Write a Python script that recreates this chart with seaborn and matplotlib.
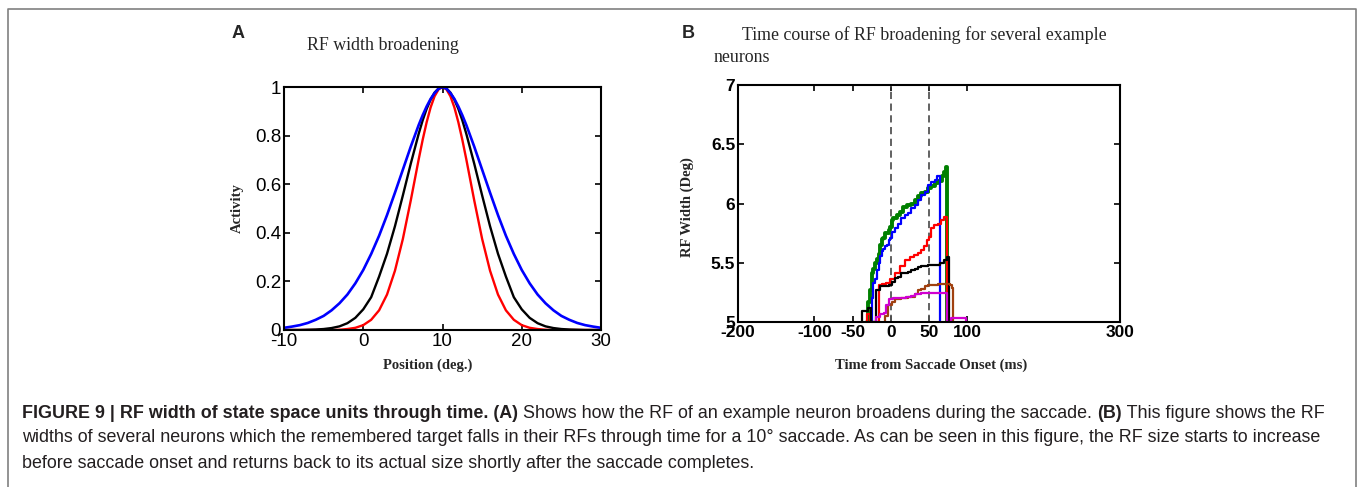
import matplotlib
matplotlib.use("Agg")
import matplotlib.pyplot as plt
import seaborn as sns
from matplotlib.lines import Line2D

# ---- panel A : RF profiles (activity vs position) ----
position = [-10, -9, -8, -7, -6, -5, -4, -3, -2, -1, 0, 1, 2, 3, 4, 5, 6, 7,
            7.5, 8, 8.5, 9, 9.5, 10, 10.5, 11, 11.5, 12, 12.5,
            13, 14, 15, 16, 17, 18, 19, 20, 21, 22, 23, 24, 25, 26, 27, 28, 29, 30]
act_red = [0, 0, 0, 0, 0, 0, 0, 0.001, 0.004, 0.009, 0.020, 0.042, 0.081, 0.146, 0.244, 0.375, 0.534, 0.703,
           0.783, 0.855, 0.916, 0.962, 0.990, 1.0, 0.990, 0.962, 0.916, 0.855, 0.783,
           0.703, 0.534, 0.375, 0.244, 0.146, 0.081, 0.042, 0.020, 0.009, 0.004, 0.001, 0, 0, 0, 0, 0, 0, 0]
act_black = [0, 0, 0, 0.001, 0.002, 0.004, 0.008, 0.015, 0.028, 0.050, 0.085, 0.135, 0.220, 0.314, 0.427, 0.554, 0.685, 0.808,
             0.863, 0.910, 0.948, 0.977, 0.994, 1.0, 0.994, 0.977, 0.948, 0.910, 0.863,
             0.808, 0.685, 0.554, 0.427, 0.314, 0.220, 0.135, 0.085, 0.050, 0.028, 0.015, 0.008, 0.004, 0.002, 0.001, 0, 0, 0]
act_blue = [0.009, 0.014, 0.020, 0.029, 0.042, 0.058, 0.081, 0.110, 0.146, 0.192, 0.247, 0.313, 0.388, 0.473, 0.565, 0.660, 0.755, 0.844,
            0.884, 0.920, 0.951, 0.975, 0.993, 1.0, 0.993, 0.975, 0.951, 0.920, 0.884,
            0.844, 0.755, 0.660, 0.565, 0.473, 0.388, 0.313, 0.247, 0.192, 0.146, 0.110, 0.081, 0.058, 0.042, 0.029, 0.020, 0.014, 0.009]

# ---- panel B : RF width over time for several neurons ----
green_t = [-31, -30, -27, -25, -23, -21, -18, -16, -14, -12, -10, -8, -3, -1, 1, 3, 8, 12, 16, 21,
           27, 32, 36, 40, 45, 49, 53, 58, 62, 67, 70, 72, 74]
green_w = [5.0, 5.17, 5.27, 5.41, 5.45, 5.50, 5.53, 5.57, 5.65, 5.70, 5.71, 5.75, 5.78, 5.80, 5.86, 5.875, 5.90, 5.93, 5.97, 5.99,
           6.00, 6.03, 6.06, 6.09, 6.10, 6.13, 6.15, 6.17, 6.19, 6.23, 6.27, 6.31, 5.0]
blue_t = [-26, -25, -23, -21, -18, -16, -14, -12, -10, -7, -5, -3, -1, 1, 5, 10, 14, 19, 23, 27,
          32, 36, 40, 45, 49, 53, 58, 61, 64]
blue_w = [5.0, 5.20, 5.33, 5.36, 5.44, 5.50, 5.56, 5.60, 5.62, 5.64, 5.65, 5.69, 5.71, 5.76, 5.79, 5.83, 5.875, 5.90, 5.92, 5.96,
          5.99, 6.03, 6.07, 6.10, 6.16, 6.18, 6.20, 6.23, 5.0]
red_t = [-33, -31, -27, -15, -12, -6, -1, 5, 12, 18, 25, 31, 36, 40, 44, 47, 50, 53, 57, 62, 66, 70, 73]
red_w = [5.0, 5.07, 5.0, 5.31, 5.32, 5.33, 5.36, 5.41, 5.47, 5.52, 5.55, 5.565, 5.58, 5.61, 5.64, 5.69, 5.72, 5.79, 5.82, 5.83,
         5.86, 5.89, 5.0]
black_t = [-39, -38, -30, -26, -20, -14, -3, 1, 5, 10, 14, 18, 23, 27, 32, 36, 40, 49, 58, 64, 69, 73, 76]
black_w = [5.0, 5.095, 5.115, 5.0, 5.27, 5.30, 5.31, 5.34, 5.37, 5.38, 5.41, 5.415, 5.425, 5.44, 5.45, 5.46, 5.47, 5.48, 5.48, 5.495,
           5.52, 5.55, 5.0]
brown_t = [-8, -7, -4, 1, 5, 14, 23, 32, 36, 40, 45, 49, 62, 77, 80, 82]
brown_w = [5.0, 5.05, 5.14, 5.17, 5.19, 5.20, 5.21, 5.24, 5.27, 5.28, 5.30, 5.31, 5.318, 5.31, 5.29, 5.0]
magenta_t = [-20, -19, -14, -9, -6, -3, 3, 13, 20, 26, 32, 36, 40, 74, 79, 98]
magenta_w = [5.0, 5.04, 5.07, 5.08, 5.14, 5.19, 5.20, 5.20, 5.21, 5.22, 5.235, 5.24, 5.247, 5.0, 5.03, 5.0]

xticks_b = [-200, -100, -50, 0, 50, 100, 300]
yticks_b = [5, 5.5, 6, 6.5, 7]
xticks_a = [-10, 0, 10, 20, 30]
yticks_a = [0, 0.2, 0.4, 0.6, 0.8, 1]

caption_l1 = [("FIGURE 9 | RF width of state space units through time. (A)", True),
              (" Shows how the RF of an example neuron broadens during the saccade. ", False),
              ("(B)", True),
              (" This figure shows the RF", False)]
caption_l2 = ("widths of several neurons which the remembered target falls in their RFs through time for a 10\u00b0 "
              "saccade. As can be seen in this figure, the RF size starts to increase")
caption_l3 = "before saccade onset and returns back to its actual size shortly after the saccade completes."

W, H = 1357, 487
sns.set_style("ticks")
plt.rcParams["axes.unicode_minus"] = False
plt.rcParams["font.family"] = ["Liberation Sans", "DejaVu Sans"]

fig = plt.figure(figsize=(W / 100, H / 100), dpi=100)
fig.patch.set_facecolor("white")


def px_axes(l, t, r, b):
    return fig.add_axes([l / W, 1 - b / H, (r - l) / W, (b - t) / H])


def style_axes(ax, bold, size):
    for s in ax.spines.values():
        s.set_linewidth(1.5)
        s.set_color("black")
    ax.tick_params(direction="in", length=4, width=1.2, top=True, right=True,
                   labelsize=size, pad=2, colors="black")
    for lab in ax.get_xticklabels() + ax.get_yticklabels():
        lab.set_fontweight("bold" if bold else "normal")


def fmt(v):
    return ("%g" % v)


# panel A
axA = px_axes(284, 87, 601, 330)
sns.lineplot(x=position, y=act_red, ax=axA, color="#ff0000", lw=1.7, estimator=None)
sns.lineplot(x=position, y=act_black, ax=axA, color="black", lw=1.7, estimator=None)
sns.lineplot(x=position, y=act_blue, ax=axA, color="#0000ff", lw=1.9, estimator=None)
axA.set_xlim(-10, 30)
axA.set_ylim(0, 1)
axA.set_xticks(xticks_a)
axA.set_xticklabels([fmt(v) for v in xticks_a])
axA.set_yticks(yticks_a)
axA.set_yticklabels([fmt(v) for v in yticks_a])
style_axes(axA, False, 13.5)

# panel B
axB = px_axes(738, 85, 1120, 322)
axB.axvline(0, color="#555555", lw=1.3, ls=(0, (4, 2.5)))
axB.axvline(50, color="#555555", lw=1.3, ls=(0, (4, 2.5)))
series = [(green_t, green_w, "#008000", 2.8), (blue_t, blue_w, "#0000ff", 1.6),
          (red_t, red_w, "#ff0000", 1.6), (black_t, black_w, "black", 1.6),
          (brown_t, brown_w, "#a0400f", 1.6), (magenta_t, magenta_w, "#d000d0", 1.6)]
for t, w, c, lw in series:
    sns.lineplot(x=t, y=w, ax=axB, color=c, lw=lw, estimator=None, drawstyle="steps-post")
axB.set_xlim(-200, 300)
axB.set_ylim(5, 7)
axB.set_xticks(xticks_b)
axB.set_xticklabels([fmt(v) for v in xticks_b])
axB.set_yticks(yticks_b)
axB.set_yticklabels([fmt(v) for v in yticks_b])
style_axes(axB, True, 12.5)


def ftext(x, y, s, **kw):
    return fig.text(x / W, 1 - y / H, s, **kw)


serif = ["Liberation Serif", "DejaVu Serif"]
# panel letters and titles
ftext(238, 34, "A", fontsize=13, fontweight="bold", ha="center", va="center")
ftext(688, 34, "B", fontsize=13, fontweight="bold", ha="center", va="center")
ftext(383, 46, "RF width broadening", family=serif, fontsize=12.9, ha="center", va="center")
ftext(742, 35, "Time course of RF broadening for several example", family=serif, fontsize=12.9, ha="left", va="center")
ftext(714, 58, "neurons", family=serif, fontsize=12.9, ha="left", va="center")

# axis labels
ftext(237, 208, "Activity", family=serif, fontsize=10.5, fontweight="bold", rotation=90, ha="center", va="center")
ftext(428, 365, "Position (deg.)", family=serif, fontsize=10.5, fontweight="bold", ha="center", va="center")
ftext(687, 207, "RF Width (Deg)", family=serif, fontsize=10.5, fontweight="bold", rotation=90, ha="center", va="center")
ftext(931, 365, "Time from Saccade Onset (ms)", family=serif, fontsize=10.5, fontweight="bold", ha="center", va="center")

# caption
renderer = fig.canvas.get_renderer()
x = 22
for txt, bold in caption_l1:
    t = ftext(x, 413, txt, fontsize=12.9, fontweight="bold" if bold else "normal", ha="left", va="center", color="#231f20")
    x += t.get_window_extent(renderer=renderer).width
ftext(22, 438, caption_l2, fontsize=12.9, ha="left", va="center", color="#231f20")
ftext(22, 463, caption_l3, fontsize=12.9, ha="left", va="center", color="#231f20")

# outer frame of the figure box
fig.add_artist(Line2D([7.5 / W, 7.5 / W, 1355.5 / W, 1355.5 / W], [0, 1 - 9 / H, 1 - 9 / H, 0],
                      transform=fig.transFigure, color="#808080", lw=1.2))

fig.savefig("out.png", dpi=100)
